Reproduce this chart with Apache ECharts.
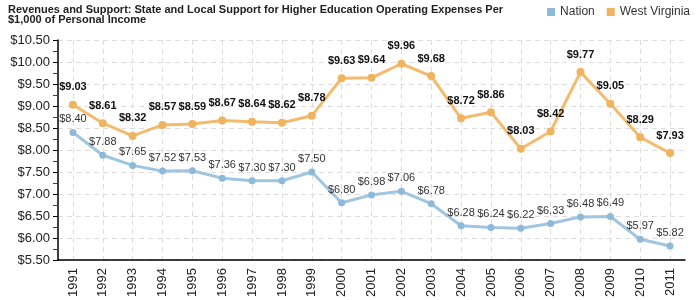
<!DOCTYPE html>
<html><head><meta charset="utf-8">
<script src="https://cdn.jsdelivr.net/npm/echarts@6/dist/echarts.min.js"></script>
<style>html,body{margin:0;padding:0;background:#fff}#c{width:700px;height:300px}</style>
</head><body><div id="c"></div>
<script>
const years = ['1991','1992','1993','1994','1995','1996','1997','1998','1999','2000','2001','2002','2003','2004','2005','2006','2007','2008','2009','2010','2011'];
const nation = [8.40,7.88,7.65,7.52,7.53,7.36,7.30,7.30,7.50,6.80,6.98,7.06,6.78,6.28,6.24,6.22,6.33,6.48,6.49,5.97,5.82];
const westVirginia = [9.03,8.61,8.32,8.57,8.59,8.67,8.64,8.62,8.78,9.63,9.64,9.96,9.68,8.72,8.86,8.03,8.42,9.77,9.05,8.29,7.93];
const chart = echarts.init(document.getElementById('c'));
const fmt = v => '$' + v.toFixed(2);
chart.setOption({
  animation: false,
  textStyle: {fontFamily: 'Liberation Sans, Arial, sans-serif'},
  title: {
    text: 'Revenues and Support: State and Local Support for Higher Education Operating Expenses Per\n$1,000 of Personal Income',
    left: 3, top: 0,
    textStyle: {fontSize: 11, fontWeight: 'bold', color: '#222', lineHeight: 10, fontFamily: 'Liberation Sans, Arial, sans-serif'}
  },
  legend: {
    right: 5, top: 1, icon: 'rect', itemWidth: 8, itemHeight: 8, itemGap: 12,
    textStyle: {fontSize: 12, color: '#333'},
    data: ['Nation', 'West Virginia']
  },
  grid: {left: 58, right: 15, top: 40, bottom: 40},
  xAxis: {
    type: 'category', data: years, boundaryGap: true,
    axisLine: {lineStyle: {color: '#000', width: 1.5}},
    axisTick: {alignWithLabel: true, lineStyle: {color: '#000'}, length: 5},
    axisLabel: {rotate: 90, fontSize: 13, color: '#222', margin: 8},
    splitLine: {show: true, alignWithLabel: true, lineStyle: {color: '#dddddd', type: [5, 4]}}
  },
  yAxis: {
    type: 'value', min: 5.5, max: 10.5, interval: 0.5,
    axisLine: {show: true, lineStyle: {color: '#000', width: 1.5}},
    axisTick: {show: true, length: 5, lineStyle: {color: '#000'}},
    minorTick: {show: true, splitNumber: 2, length: 5, lineStyle: {color: '#cc0000'}},
    axisLabel: {fontSize: 13, color: '#222', formatter: v => '$' + v.toFixed(2), margin: 8},
    splitLine: {show: true, lineStyle: {color: '#dddddd', type: [5, 4]}}
  },
  series: [
    {
      name: 'Nation', type: 'line', data: nation,
      color: '#8dbadb',
      symbol: 'circle', symbolSize: 7,
      lineStyle: {width: 3, color: '#9fc5e0'},
      itemStyle: {color: '#8dbadb'},
      label: {show: true, position: 'top', distance: 4, fontSize: 11, color: '#333', formatter: p => fmt(p.value)}
    },
    {
      name: 'West Virginia', type: 'line', data: westVirginia,
      color: '#f0b35f',
      symbol: 'circle', symbolSize: 8,
      lineStyle: {width: 3, color: '#f2bb6e'},
      itemStyle: {color: '#f0b35f'},
      label: {show: true, position: 'top', distance: 8, fontSize: 11, fontWeight: 'bold', color: '#111', formatter: p => fmt(p.value)}
    }
  ]
});
</script></body></html>
